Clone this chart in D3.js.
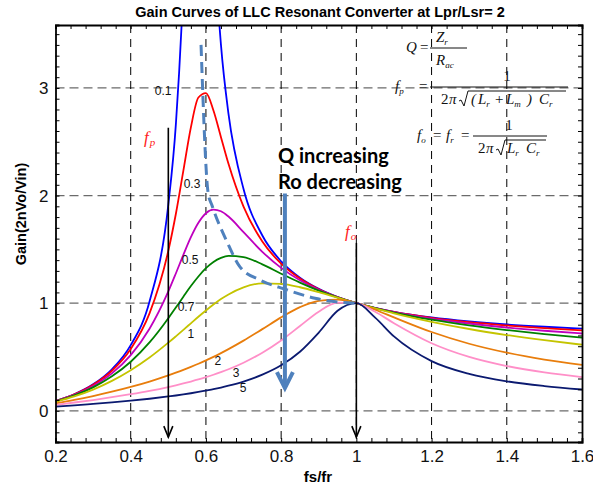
<!DOCTYPE html>
<html>
<head>
<meta charset="utf-8">
<title>Gain Curves of LLC Resonant Converter</title>
<script src="https://d3js.org/d3.v7.min.js"></script>
<style>
  body { margin: 0; background: white; }
  svg  { font-family: "Liberation Sans", Arial, sans-serif; }
  .tick text { font-size: 17px; fill: #111; }
  .frame line, .frame path { stroke: black; }
  .formula { font-family: "Liberation Serif", "Times New Roman", serif; font-style: italic; fill: #111; }
</style>
</head>
<body>
<script>

// normalised switching frequency fs/fr
var fn = [0.2, 0.25, 0.3, 0.35, 0.4, 0.45, 0.5, 0.52, 0.54, 0.56, 0.58, 0.6, 0.62, 0.64, 0.66,
          0.7, 0.75, 0.8, 0.85, 0.9, 0.95, 1.0, 1.05, 1.1, 1.2, 1.3, 1.4, 1.5, 1.6];

// gain, one list per Q
var q01 = [0.091, 0.154, 0.246, 0.386, 0.610, 1.015, 1.916, 2.659, 3.975, 6.47, 8.68, 6.49, 4.49, 3.40, 2.76,
           2.061, 1.629, 1.389, 1.237, 1.133, 1.057, 1, 0.956, 0.920, 0.867, 0.830, 0.802, 0.781, 0.764];
var q03 = [0.090, 0.152, 0.241, 0.372, 0.574, 0.905, 1.487, 1.829, 2.231, 2.634, 2.911, 2.952, 2.790, 2.543, 2.295,
           1.897, 1.573, 1.367, 1.229, 1.130, 1.057, 1, 0.955, 0.919, 0.864, 0.823, 0.793, 0.768, 0.748];
var q05 = [0.089, 0.148, 0.231, 0.348, 0.517, 0.762, 1.109, 1.276, 1.449, 1.613, 1.747, 1.836, 1.869, 1.854, 1.805,
           1.660, 1.477, 1.328, 1.213, 1.125, 1.056, 1, 0.955, 0.917, 0.857, 0.811, 0.774, 0.744, 0.718];
var q07 = [0.087, 0.143, 0.218, 0.320, 0.456, 0.635, 0.860, 0.960, 1.060, 1.159, 1.248, 1.325, 1.383, 1.421, 1.440,
           1.428, 1.361, 1.274, 1.191, 1.117, 1.054, 1, 0.954, 0.913, 0.847, 0.794, 0.750, 0.712, 0.679];
var q1  = [0.083, 0.133, 0.197, 0.278, 0.377, 0.495, 0.633, 0.692, 0.752, 0.813, 0.874, 0.932, 0.987, 1.038, 1.081,
           1.147, 1.184, 1.179, 1.148, 1.102, 1.051, 1, 0.952, 0.906, 0.827, 0.760, 0.704, 0.656, 0.614];
var q2  = [0.069, 0.101, 0.137, 0.177, 0.222, 0.272, 0.329, 0.354, 0.380, 0.408, 0.437, 0.468, 0.501, 0.536, 0.573,
           0.652, 0.759, 0.868, 0.963, 1.022, 1.033, 1, 0.939, 0.868, 0.732, 0.623, 0.540, 0.476, 0.426];
var q3  = [0.055, 0.077, 0.100, 0.126, 0.154, 0.185, 0.221, 0.237, 0.254, 0.272, 0.291, 0.312, 0.335, 0.360, 0.386,
           0.447, 0.540, 0.654, 0.788, 0.921, 1.005, 1, 0.920, 0.814, 0.628, 0.501, 0.416, 0.356, 0.312];
var q5  = [0.038, 0.050, 0.064, 0.078, 0.094, 0.112, 0.133, 0.142, 0.152, 0.163, 0.175, 0.188, 0.201, 0.216, 0.233,
           0.272, 0.336, 0.423, 0.549, 0.727, 0.929, 1, 0.866, 0.691, 0.462, 0.343, 0.274, 0.230, 0.198];

var seriesNames  = ["0.1", "0.3", "0.5", "0.7", "1", "2", "3", "5"];
var seriesValues = [q01, q03, q05, q07, q1, q2, q3, q5];
var seriesColors = ["#0000ff", "#ff0000", "#bf00bf", "#008000", "#c4c400", "#e87d0c", "#ff8fc8", "#0b1a70"];

// Q label positions [fs/fr, gain]
var labelX = [0.486, 0.563, 0.558, 0.547, 0.56, 0.632, 0.68, 0.699];
var labelY = [2.97, 2.11, 1.40, 0.965, 0.72, 0.46, 0.35, 0.21];

// locus of the peaks (dashed)
var peakX = [0.587, 0.606, 0.616, 0.656, 0.691, 0.744, 0.81, 0.89, 0.957, 1.0];
var peakY = [3.40, 2.02, 1.91, 1.57, 1.335, 1.215, 1.13, 1.046, 1.009, 1.0];

var xTicks = [0.2, 0.4, 0.6, 0.8, 1.0, 1.2, 1.4, 1.6];
var yTicks = [0, 1, 2, 3];

var W = 593, H = 487;
var mLeft = 55.5, mRight = 582, mTop = 25, mBottom = 442;

var x = d3.scaleLinear().domain([0.2, 1.6]).range([mLeft, mRight]);
var y = d3.scaleLinear().domain([-0.29, 3.585]).range([mBottom, mTop]);

var svg = d3.select("body").append("svg")
  .attr("width", W).attr("height", H);

svg.append("defs").append("clipPath").attr("id", "plot")
  .append("rect").attr("x", mLeft).attr("y", mTop)
  .attr("width", mRight - mLeft).attr("height", mBottom - mTop);

// grid
svg.append("g").selectAll("line").data(yTicks).enter().append("line")
  .attr("x1", mLeft).attr("x2", mRight)
  .attr("y1", d => y(d)).attr("y2", d => y(d))
  .attr("stroke", "#6b6b6b").attr("stroke-width", 1.3)
  .attr("stroke-dasharray", "9,5");

svg.append("g").selectAll("line").data(xTicks.slice(1, -1)).enter().append("line")
  .attr("x1", d => x(d)).attr("x2", d => x(d))
  .attr("y1", mTop).attr("y2", mBottom)
  .attr("stroke", "black").attr("stroke-width", 1)
  .attr("stroke-dasharray", "8,6");

// curves
var line = d3.line()
  .x((d, i) => x(fn[i]))
  .y(d => y(d))
  .curve(d3.curveMonotoneX);

var curves = svg.append("g").attr("clip-path", "url(#plot)");
curves.selectAll("path").data(seriesValues).enter().append("path")
  .attr("d", line)
  .attr("fill", "none")
  .attr("stroke", (d, i) => seriesColors[i])
  .attr("stroke-width", 1.8);

// dashed peak locus
var locus = d3.line()
  .x((d, i) => x(peakX[i]))
  .y(d => y(d))
  .curve(d3.curveMonotoneX);
curves.append("path")
  .attr("d", locus(peakY))
  .attr("fill", "none")
  .attr("stroke", "#4f81bd")
  .attr("stroke-width", 3)
  .attr("stroke-dasharray", "11,6");

// Q labels
svg.append("g").selectAll("text").data(seriesNames).enter().append("text")
  .attr("x", (d, i) => x(labelX[i]))
  .attr("y", (d, i) => y(labelY[i]))
  .attr("text-anchor", "middle")
  .attr("dy", "0.35em")
  .attr("font-size", 12)
  .attr("fill", "#111")
  .text(d => d);

// fp / fo arrows
function blackArrow(fx, g0, g1) {
  var px = x(fx), y0 = y(g0), y1 = y(g1);
  svg.append("line")
    .attr("x1", px).attr("x2", px).attr("y1", y0).attr("y2", y1)
    .attr("stroke", "black").attr("stroke-width", 1.6);
  svg.append("path")
    .attr("d", "M" + (px - 4.5) + "," + (y1 - 11) + "L" + px + "," + y1 + "L" + (px + 4.5) + "," + (y1 - 11))
    .attr("fill", "none").attr("stroke", "black").attr("stroke-width", 1.6);
}
blackArrow(0.5, 2.63, -0.245);
blackArrow(1.0, 1.56, -0.245);

// big blue arrow
var ax = x(0.81), ay0 = y(2.02), ay1 = y(0.211);
svg.append("line")
  .attr("x1", ax).attr("x2", ax).attr("y1", ay0).attr("y2", ay1 - 4)
  .attr("stroke", "#4f81bd").attr("stroke-width", 4);
svg.append("path")
  .attr("d", "M" + (ax - 8) + "," + (ay1 - 16) + "L" + ax + "," + ay1 + "L" + (ax + 8) + "," + (ay1 - 16))
  .attr("fill", "none").attr("stroke", "#4f81bd").attr("stroke-width", 4)
  .attr("stroke-linejoin", "miter");

// fp, fo labels
function fLabel(px, py, sub) {
  var t = svg.append("text").attr("class", "formula")
    .attr("x", px).attr("y", py).attr("font-size", 17).style("fill", "#ff2020");
  t.append("tspan").text("f");
  t.append("tspan").attr("dx", 1).attr("dy", 3).attr("font-size", 11).text(sub);
}
fLabel(144, 143, "p");
fLabel(345, 237, "o");

// annotation text
svg.append("text").attr("x", 278).attr("y", 163)
  .attr("font-family", "Lato, 'Open Sans', sans-serif").attr("font-weight", "bold")
  .attr("font-size", 20).attr("fill", "black").text("Q increasing");
svg.append("text").attr("x", 278).attr("y", 189)
  .attr("font-family", "Lato, 'Open Sans', sans-serif").attr("font-weight", "bold")
  .attr("font-size", 20).attr("fill", "black").text("Ro decreasing");

// formulas
var fm = svg.append("g").attr("class", "formula").attr("font-size", 15);

function sym(px, py, main, sub, size) {
  var t = fm.append("text").attr("x", px).attr("y", py);
  if (size) t.attr("font-size", size);
  t.append("tspan").text(main);
  if (sub) t.append("tspan").attr("dy", 3).attr("font-size", 9).text(sub);
  return t;
}
function plain(px, py, s, anchor) {
  return fm.append("text").attr("x", px).attr("y", py)
    .style("font-style", "normal").attr("text-anchor", anchor || "start").text(s);
}
function bar(x1, x2, py) {
  fm.append("line").attr("x1", x1).attr("x2", x2).attr("y1", py).attr("y2", py)
    .attr("stroke", "#111").attr("stroke-width", 1);
}
function radical(x0, yb, x2, yt) {
  fm.append("path")
    .attr("d", "M" + x0 + "," + (yb - 5) + "L" + (x0 + 2) + "," + (yb - 6) + "L" + (x0 + 5) + "," + yb +
               "L" + (x0 + 9) + "," + yt + "L" + x2 + "," + yt)
    .attr("fill", "none").attr("stroke", "#111").attr("stroke-width", 1);
}

// Q = Zr / Rac
sym(406, 52, "Q");
plain(420, 52, "=");
sym(436, 42, "Z", "r");
bar(430, 467, 48);
sym(436, 65, "R", "ac");

// fp = 1 / (2 pi sqrt((Lr+Lm)Cr))
sym(395, 91, "f", "p");
plain(419, 91, "=");
plain(507, 81, "1", "middle");
bar(430, 568, 87);
plain(441, 104, "2");
sym(449, 104, "\u03c0");
radical(459, 106, 566, 91);
sym(471, 104, "(");
sym(478, 104, "L", "r");
plain(495, 104, "+");
sym(506, 104, "L", "m");
sym(527, 104, ")");
sym(539, 104, "C", "r");

// fo = fr = 1 / (2 pi sqrt(Lr Cr))
sym(417, 140, "f", "o");
plain(433, 140, "=");
sym(446, 140, "f", "r");
plain(461, 140, "=");
plain(509, 130, "1", "middle");
bar(473, 547, 136);
plain(478, 153, "2");
sym(486, 153, "\u03c0");
radical(496, 155, 546, 140);
sym(507, 153, "L", "r");
sym(526, 153, "C", "r");

// frame with inward ticks
var frame = svg.append("g").attr("class", "frame");
var xMinor = d3.range(0, 36).map(i => 0.2 + i * 0.04);
var yMinor = d3.range(-2, 36).map(i => i / 10);

frame.append("g").attr("transform", "translate(0," + mBottom + ")")
  .call(d3.axisBottom(x).tickValues(xMinor).tickSize(-4).tickFormat(""));
frame.append("g").attr("transform", "translate(0," + mTop + ")")
  .call(d3.axisTop(x).tickValues(xMinor).tickSize(-4).tickFormat(""));
frame.append("g").attr("transform", "translate(" + mLeft + ",0)")
  .call(d3.axisLeft(y).tickValues(yMinor).tickSize(-4).tickFormat(""));
frame.append("g").attr("transform", "translate(" + mRight + ",0)")
  .call(d3.axisRight(y).tickValues(yMinor).tickSize(-4).tickFormat(""));
frame.selectAll("path.domain").attr("stroke-width", 1.8);

// tick labels
frame.append("g").attr("transform", "translate(0," + mBottom + ")")
  .call(d3.axisBottom(x).tickValues(xTicks).tickSize(0).tickPadding(8)
    .tickFormat(d => d === 1 ? "1" : d3.format(".1f")(d)))
  .select(".domain").remove();
frame.append("g").attr("transform", "translate(" + mLeft + ",0)")
  .call(d3.axisLeft(y).tickValues(yTicks).tickSize(0).tickPadding(7).tickFormat(d3.format("d")))
  .select(".domain").remove();

// titles
svg.append("text").attr("x", 320).attr("y", 17).attr("text-anchor", "middle")
  .attr("font-weight", "bold").attr("font-size", 14.5)
  .text("Gain Curves of LLC Resonant Converter at Lpr/Lsr= 2");
svg.append("text").attr("x", 318).attr("y", 482).attr("text-anchor", "middle")
  .attr("font-weight", "bold").attr("font-size", 15).text("fs/fr");
svg.append("text").attr("transform", "translate(26,214) rotate(-90)").attr("text-anchor", "middle")
  .attr("font-weight", "bold").attr("font-size", 14.5).text("Gain(2nVo/Vin)");

</script>
</body>
</html>
